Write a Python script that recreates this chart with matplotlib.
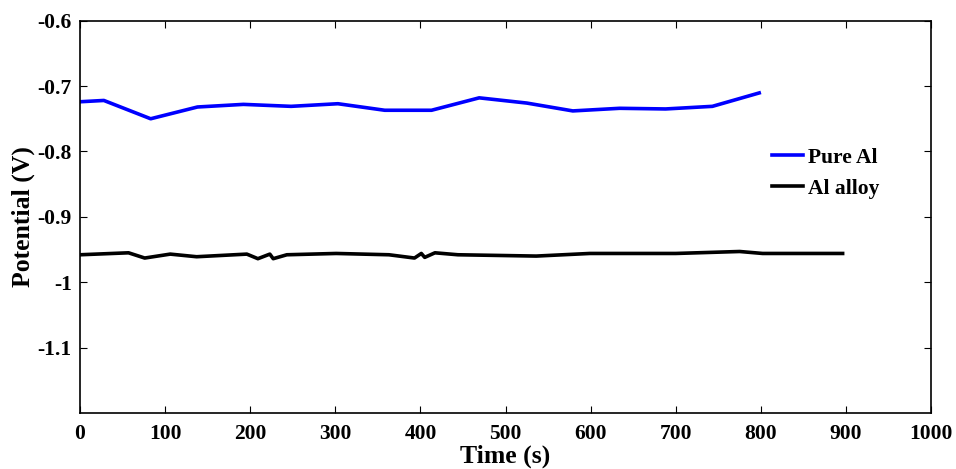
import matplotlib
matplotlib.use('Agg')
import matplotlib.pyplot as plt

# Pure Al open-circuit potential vs time
pure_t = [0, 28, 83, 138, 192, 248, 303, 358, 413, 469, 525, 579, 634, 688, 743, 798]
pure_v = [-0.724, -0.722, -0.750, -0.732, -0.728, -0.731, -0.727, -0.737, -0.737,
          -0.718, -0.726, -0.738, -0.734, -0.735, -0.731, -0.7105]

# Al alloy open-circuit potential vs time
alloy_t = [0, 57, 76, 106, 137, 196, 209, 223, 227, 243, 301, 363, 393, 401, 405,
           417, 444, 536, 599, 700, 775, 802, 896]
alloy_v = [-0.958, -0.955, -0.963, -0.957, -0.961, -0.957, -0.964, -0.957, -0.964,
           -0.958, -0.956, -0.958, -0.963, -0.956, -0.962, -0.955, -0.958, -0.960,
           -0.956, -0.956, -0.953, -0.956, -0.956]

x_ticks = list(range(0, 1001, 100))
y_ticks = [-1.1, -1.0, -0.9, -0.8, -0.7, -0.6]
y_tick_labels = ['-1.1', '-1', '-0.9', '-0.8', '-0.7', '-0.6']

plt.rcParams['font.family'] = ['Liberation Serif', 'DejaVu Serif']
plt.rcParams['font.weight'] = 'bold'

fig = plt.figure(figsize=(9.56, 4.69), dpi=100)
ax = fig.add_axes([0.0837, 0.1194, 0.8903, 0.8365])

ax.plot(pure_t, pure_v, color='#0000ff', linewidth=2.6, label='Pure Al')
ax.plot(alloy_t, alloy_v, color='black', linewidth=2.6, label='Al alloy')

ax.set_xlim(0, 1000)
ax.set_ylim(-1.2, -0.6)
ax.set_xticks(x_ticks)
ax.set_yticks(y_ticks)
ax.set_yticklabels(y_tick_labels)
ax.tick_params(direction='in', top=True, right=True, length=5, width=0.8,
               labelsize=15.5)
ax.tick_params(axis='x', pad=8)
ax.tick_params(axis='y', pad=6)
for lbl in ax.get_xticklabels() + ax.get_yticklabels():
    lbl.set_fontweight('bold')
for s in ax.spines.values():
    s.set_linewidth(1.2)

ax.set_xlabel('Time (s)', fontsize=18.5, fontweight='bold', labelpad=0)
ax.set_ylabel('Potential (V)', fontsize=18.5, fontweight='bold', labelpad=2)

ax.legend(loc='upper left', bbox_to_anchor=(0.790, 0.7255), frameon=False,
          prop={'size': 15.5, 'weight': 'bold'}, handlelength=1.44,
          handletextpad=0.25, labelspacing=0.5)

fig.savefig('out.png', dpi=100)
